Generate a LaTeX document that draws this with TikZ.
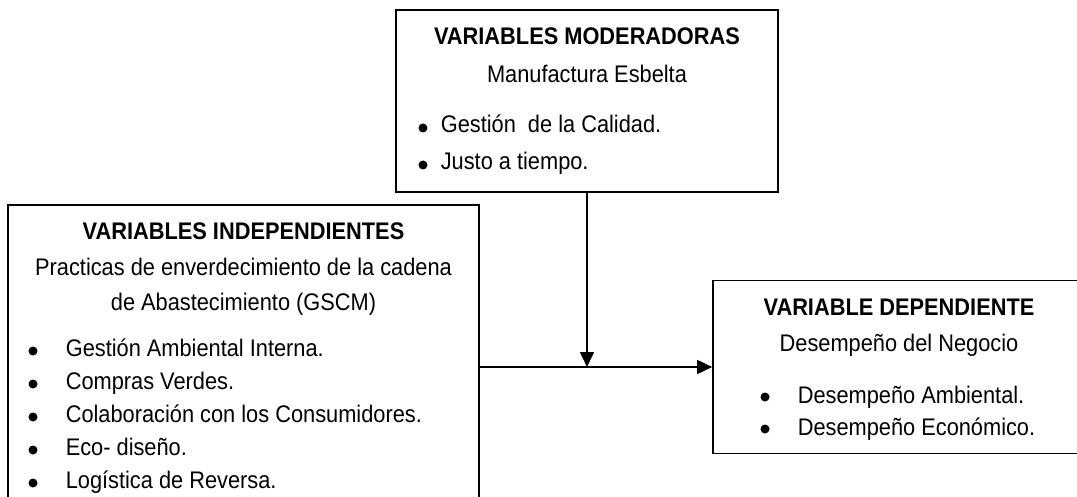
\documentclass[tikz,border=0pt]{standalone}
\usepackage{fontspec}
\setmainfont{Liberation Sans}[FakeStretch=0.908]
\usetikzlibrary{arrows.meta}

\begin{document}
\begin{tikzpicture}[x=1pt,y=-1pt,>={Triangle[length=15pt,width=14pt]},
                    line width=1.6pt,
                    box/.style={draw,rectangle,inner sep=0pt},
                    head/.style={font=\fontsize{24}{26}\selectfont\bfseries,anchor=base,inner sep=0pt},
                    sub/.style={font=\fontsize{24}{26}\selectfont,anchor=base,inner sep=0pt},
                    item/.style={font=\fontsize{24}{26}\selectfont,anchor=base west,inner sep=0pt},
                    dot/.style={circle,fill,inner sep=0pt,minimum size=9pt}]
  \clip (0,0) rectangle (1077,497);
  % the three boxes
  \node[box,minimum width=382pt,minimum height=182pt] (moder) at (587,101) {};
  \node[box,minimum width=471pt,minimum height=324pt] (indep) at (243.5,367) {};
  \node[box,minimum width=372pt,minimum height=173pt] (dep) at (899,367) {};
  % moderadoras
  \node[head] (moderhead) at (587,45) {VARIABLES MODERADORAS};
  \node[sub] (modersub) at (587,83) {Manufactura Esbelta};
  \node[dot] (moderdot1) at (423,128) {};
  \node[item] (moder1) at (440,133) {Gestión\ \ de la Calidad.};
  \node[dot] (moderdot2) at (423,165) {};
  \node[item] (moder2) at (440,170) {Justo a tiempo.};
  % independientes
  \node[head] (indephead) at (243.5,240) {VARIABLES INDEPENDIENTES};
  \node[sub] (indepsub1) at (243.5,276) {Practicas de enverdecimiento de la cadena};
  \node[sub] (indepsub2) at (243.5,310) {de Abastecimiento (GSCM)};
  \foreach \txt [count=\i] in {Gestión Ambiental Interna.,Compras Verdes.,
      Colaboración con los Consumidores.,Eco- diseño.,Logística de Reversa.} {
    \node[dot] (indepdot\i) at (33,{351+33*(\i-1)}) {};
    \node[item] (indep\i) at (65,{356+33*(\i-1)}) {\txt};
  }
  % dependiente
  \node[head] (dephead) at (899,316) {VARIABLE DEPENDIENTE};
  \node[sub] (depsub) at (899,351) {Desempeño del Negocio};
  \node[dot] (depdot1) at (765,397) {};
  \node[item] (dep1) at (797,403) {Desempeño Ambiental.};
  \node[dot] (depdot2) at (765,429) {};
  \node[item] (dep2) at (797,435) {Desempeño Económico.};
  % connectors
  \coordinate (junction) at (moder.south |- indep.east);
  \draw[->] (indep.east) -- (indep.east -| dep.west);
  \draw[->] (moder.south) -- (junction);
\end{tikzpicture}
\end{document}
